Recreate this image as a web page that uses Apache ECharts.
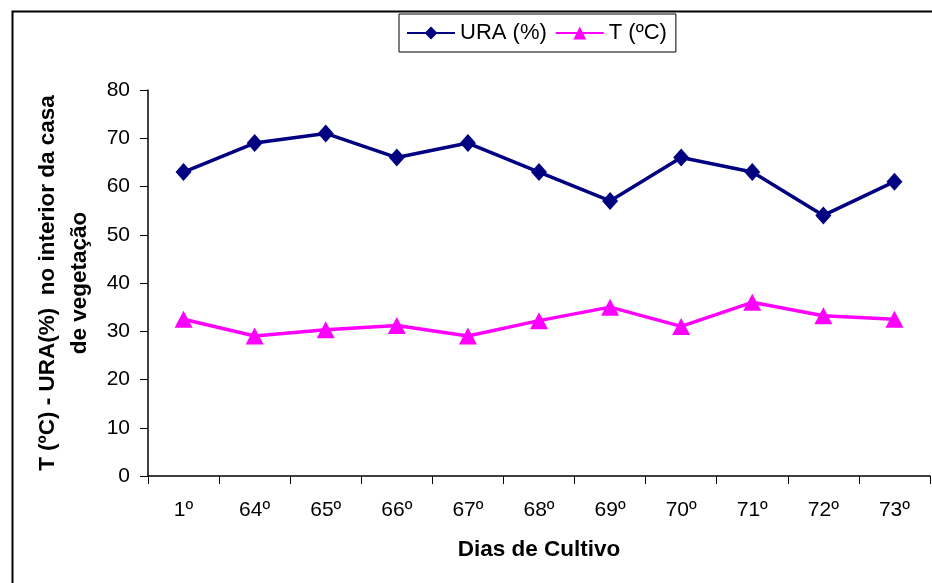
<!DOCTYPE html>
<html>
<head>
<meta charset="utf-8">
<script src="https://cdn.jsdelivr.net/npm/echarts@6/dist/echarts.min.js"></script>
<style>html,body{margin:0;padding:0;background:#fff}#c{width:932px;height:583px}</style>
</head>
<body>
<div id="c"></div>
<script>
const categories = ['1º','64º','65º','66º','67º','68º','69º','70º','71º','72º','73º'];
const uraValues = [63, 69, 71, 66, 69, 63, 57, 66, 63, 54, 61];
const tempValues = [32.5, 29, 30.3, 31.2, 29, 32.2, 35, 31, 36, 33.2, 32.5];
const yTicks = [0, 80, 10];

const font = 'Arial, "Liberation Sans", sans-serif';
const chart = echarts.init(document.getElementById('c'), null, {renderer: 'canvas'});
chart.setOption({
  animation: false,
  backgroundColor: '#fff',
  graphic: [{
    type: 'rect', left: 10, top: 9, silent: true,
    shape: {width: 940, height: 600},
    style: {fill: 'none', stroke: '#000', lineWidth: 2}
  }],
  legend: {
    left: 399, top: 14,
    padding: [8, 9, 8, 7],
    borderColor: '#000', borderWidth: 1,
    itemWidth: 48, itemHeight: 16, itemGap: 8,
    textStyle: {fontFamily: font, fontSize: 22, color: '#000'},
    data: ['URA (%)', 'T (ºC)']
  },
  grid: {left: 148, right: 2, top: 90, bottom: 107, containLabel: false},
  xAxis: {
    type: 'category', data: categories, boundaryGap: true,
    axisLine: {lineStyle: {color: '#000', width: 1.5}},
    axisTick: {show: true, length: 8, inside: false, alignWithLabel: false, lineStyle: {color: '#000'}},
    axisLabel: {fontFamily: font, fontSize: 21, color: '#000', margin: 24},
    name: 'Dias de Cultivo', nameLocation: 'middle', nameGap: 62,
    nameTextStyle: {fontFamily: font, fontSize: 22.5, fontWeight: 'bold', color: '#000'},
    splitLine: {show: false}
  },
  yAxis: {
    type: 'value', min: yTicks[0], max: yTicks[1], interval: yTicks[2],
    axisLine: {show: true, lineStyle: {color: '#000', width: 1.5}},
    axisTick: {show: true, length: 8, lineStyle: {color: '#000'}},
    axisLabel: {fontFamily: font, fontSize: 21, color: '#000', margin: 18},
    splitLine: {show: false},
    name: 'T (ºC) - URA(%)  no interior da casa\nde vegetação',
    nameLocation: 'middle', nameRotate: 90, nameGap: 50,
    nameTextStyle: {fontFamily: font, fontSize: 22.5, fontWeight: 'bold', color: '#000', lineHeight: 32, align: 'center'}
  },
  series: [{
    name: 'URA (%)', type: 'line', data: uraValues,
    color: '#000080',
    lineStyle: {color: '#000080', width: 3.5},
    itemStyle: {color: '#000080'},
    symbol: 'diamond', symbolSize: [16, 18], showAllSymbol: true
  }, {
    name: 'T (ºC)', type: 'line', data: tempValues,
    color: '#FF00FF',
    lineStyle: {color: '#FF00FF', width: 3.5},
    itemStyle: {color: '#FF00FF'},
    symbol: 'triangle', symbolSize: [18, 17], showAllSymbol: true
  }]
});
</script>
</body>
</html>
